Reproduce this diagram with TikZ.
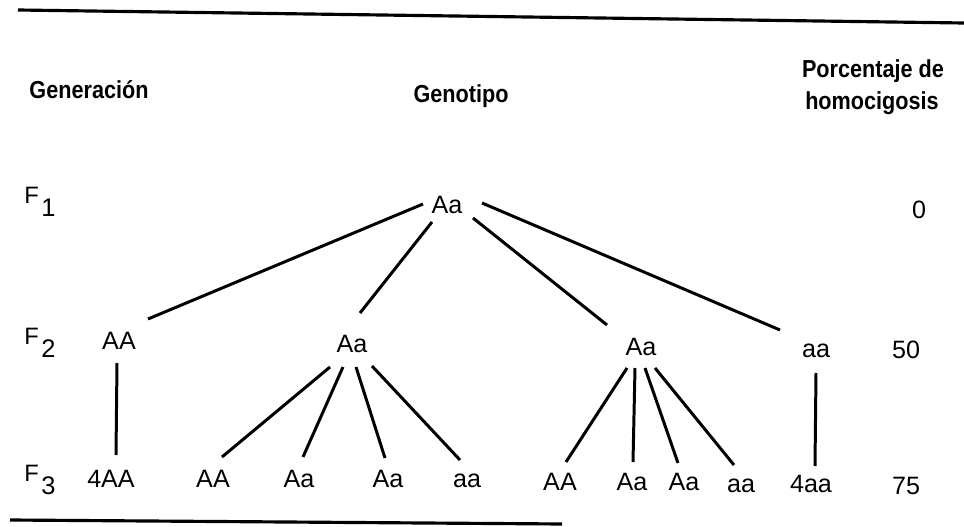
\documentclass[tikz,border=0pt]{standalone}
\usepackage{fontspec}
\setmainfont{Liberation Sans}
\newfontfamily\hdrfont[FakeStretch=0.88]{Liberation Sans}
\newcommand\fsub[1]{{\fontsize{13.5pt}{15pt}\selectfont F}\hspace{1.5pt}\raisebox{-7.5pt}{\fontsize{14.5pt}{17pt}\selectfont #1}}
\begin{document}
\begin{tikzpicture}[x=0.02cm,y=-0.02cm,
  lbl/.style={inner sep=0pt, anchor=base, font=\fontsize{14.3pt}{16pt}\selectfont},
  hdr/.style={inner sep=0pt, anchor=base, font=\hdrfont\bfseries\fontsize{14pt}{16pt}\selectfont},
  flab/.style={inner sep=0pt, anchor=base west},
  lnk/.style={line width=1.7pt},
  rulestyle/.style={line width=1.8pt}]
\useasboundingbox (0,0) rectangle (964,527);

% rules
\coordinate (tl) at (18,10);
\coordinate (tr) at (964,23);
\coordinate (bl) at (10,520);
\coordinate (br) at (562,524);
\draw[rulestyle] (tl) -- (tr);
\draw[rulestyle] (bl) -- (br);

% headers
\node[hdr] (hgen) at (89,99) {Generación};
\node[hdr] (hgeno) at (461,103) {Genotipo};
\node[hdr] (hpor1) at (873,78) {Porcentaje de};
\node[hdr] (hpor2) at (872,110) {homocigosis};

% generation labels
\node[flab] (f1) at (24,203) {\fsub{1}};
\node[flab] (f2) at (24,344) {\fsub{2}};
\node[flab] (f3) at (24,481) {\fsub{3}};

% percentages
\node[lbl] (p0) at (919,218) {0};
\node[lbl] (p50) at (906,358) {50};
\node[lbl] (p75) at (906,494) {75};

% genotypes
\node[lbl] (g1) at (447,214) {Aa};
\node[lbl] (g2a) at (119,349) {AA};
\node[lbl] (g2b) at (352,352) {Aa};
\node[lbl] (g2c) at (641,355) {Aa};
\node[lbl] (g2d) at (816,357) {aa};
\node[lbl] (g3a) at (111,487) {4AA};
\node[lbl] (g3b) at (213,487) {AA};
\node[lbl] (g3c) at (299,487) {Aa};
\node[lbl] (g3d) at (388,487) {Aa};
\node[lbl] (g3e) at (467,487) {aa};
\node[lbl] (g3f) at (560,490) {AA};
\node[lbl] (g3g) at (632,490) {Aa};
\node[lbl] (g3h) at (684,490) {Aa};
\node[lbl] (g3i) at (741,492) {aa};
\node[lbl] (g3j) at (811,492) {4aa};

% F1 -> F2
\draw[lnk] ([shift={(-24,-10)}]g1.base) -- ([shift={(29,-30)}]g2a.base);
\draw[lnk] ([shift={(-15,8)}]g1.base) -- ([shift={(8,-39)}]g2b.base);
\draw[lnk] ([shift={(26,4)}]g1.base) -- ([shift={(-34,-30)}]g2c.base);
\draw[lnk] ([shift={(35,-11)}]g1.base) -- ([shift={(-36,-27)}]g2d.base);

% F2 -> F3
\draw[lnk] ([shift={(-2,14)}]g2a.base) -- ([shift={(5,-32)}]g3a.base);

\draw[lnk] ([shift={(-22,15)}]g2b.base) -- ([shift={(9,-30)}]g3b.base);
\draw[lnk] ([shift={(-9,15)}]g2b.base) -- ([shift={(4,-30)}]g3c.base);
\draw[lnk] ([shift={(4,15)}]g2b.base) -- ([shift={(-3,-29)}]g3d.base);
\draw[lnk] ([shift={(20,14)}]g2b.base) -- ([shift={(-7,-27)}]g3e.base);

\draw[lnk] ([shift={(-14,13)}]g2c.base) -- ([shift={(6,-28)}]g3f.base);
\draw[lnk] ([shift={(-6,13)}]g2c.base) -- ([shift={(1,-28)}]g3g.base);
\draw[lnk] ([shift={(4,13)}]g2c.base) -- ([shift={(-6,-27)}]g3h.base);
\draw[lnk] ([shift={(14,13)}]g2c.base) -- ([shift={(-7,-27)}]g3i.base);

\draw[lnk] ([shift={(0,16)}]g2d.base) -- ([shift={(4,-26)}]g3j.base);
\end{tikzpicture}
\end{document}
